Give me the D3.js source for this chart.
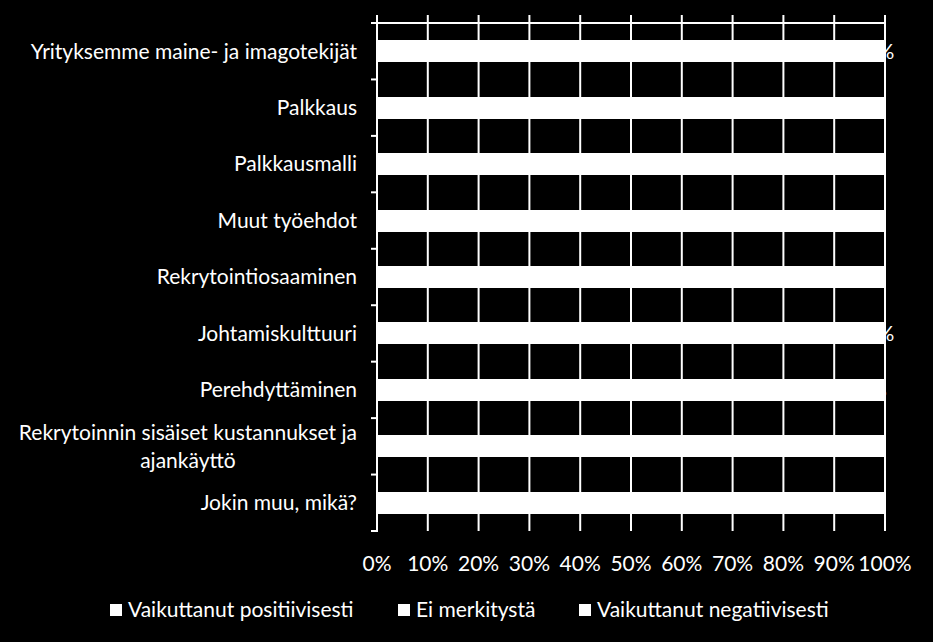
<!DOCTYPE html>
<html lang="fi">
<head>
<meta charset="UTF-8">
<title>Rekrytointi</title>
<script src="https://d3js.org/d3.v7.min.js"></script>
<style>
  html, body { margin: 0; padding: 0; background: #000; }
  svg { display: block; }
  text { font-family: Lato, "Open Sans", sans-serif; fill: #fff; }
</style>
</head>
<body>
<div id="chart"></div>
<script>
// categories top to bottom
var categories = [
  "Yrityksemme maine- ja imagotekijät",
  "Palkkaus",
  "Palkkausmalli",
  "Muut työehdot",
  "Rekrytointiosaaminen",
  "Johtamiskulttuuri",
  "Perehdyttäminen",
  "Rekrytoinnin sisäiset kustannukset ja ajankäyttö",
  "Jokin muu, mikä?"
];
var seriesNames = ["Vaikuttanut positiivisesti", "Ei merkitystä", "Vaikuttanut negatiivisesti"];
// all segments are white in the picture, so the splits are estimates
var positive = [45, 30, 20, 25, 35, 40, 30, 15, 10];
var neutral  = [53, 60, 70, 67, 57, 58, 65, 60, 80];
var negative = [ 2, 10, 10,  8,  8,  2,  5, 25, 10];
var tickValues = [0, 10, 20, 30, 40, 50, 60, 70, 80, 90, 100];

var W = 933, H = 642;
var plot = {left: 377, right: 885, top: 23, bottom: 531};
var fontSize = "21px";

var svg = d3.select("#chart").append("svg")
    .attr("width", W).attr("height", H);

svg.append("rect").attr("width", W).attr("height", H).attr("fill", "#000");

var x = d3.scaleLinear().domain([0, 100]).range([plot.left, plot.right]);
var y = d3.scaleBand().domain(categories).range([plot.top, plot.bottom])
    .paddingInner(0.61).paddingOuter(0.305);
var step = y.step();

// gridlines (with the little outside ticks above the top axis)
svg.append("g").selectAll("line")
  .data(tickValues).enter().append("line")
    .attr("x1", d => x(d)).attr("x2", d => x(d))
    .attr("y1", plot.top - 8).attr("y2", plot.bottom)
    .attr("stroke", "#fff").attr("stroke-width", 2);

// stacked bars
var rows = categories.map(function(c, i) {
  return {cat: c, v: [positive[i], neutral[i], negative[i]]};
});
var segs = [];
rows.forEach(function(r) {
  var acc = 0;
  r.v.forEach(function(v, k) {
    segs.push({cat: r.cat, k: k, x0: acc, x1: acc + v, v: v});
    acc += v;
  });
});

svg.append("g")
    .attr("shape-rendering", "crispEdges")
  .selectAll("rect")
  .data(segs).enter().append("rect")
    .attr("x", d => Math.round(x(d.x0)))
    .attr("y", d => Math.round(y(d.cat)))
    .attr("width", d => Math.round(x(d.x1)) - Math.round(x(d.x0)))
    .attr("height", Math.round(y.bandwidth()))
    .attr("fill", "#fff");

// value axis line on top
svg.append("line")
  .attr("x1", plot.left - 1).attr("x2", plot.right + 1)
  .attr("y1", plot.top).attr("y2", plot.top)
  .attr("stroke", "#fff").attr("stroke-width", 2);

// category axis line with ticks
svg.append("line")
  .attr("x1", plot.left).attr("x2", plot.left)
  .attr("y1", plot.top).attr("y2", plot.bottom + 1)
  .attr("stroke", "#fff").attr("stroke-width", 2);
svg.append("g").selectAll("line")
  .data(d3.range(categories.length + 1)).enter().append("line")
    .attr("x1", plot.left - 6).attr("x2", plot.left)
    .attr("y1", i => plot.top + i * step).attr("y2", i => plot.top + i * step)
    .attr("stroke", "#fff").attr("stroke-width", 2);

// data labels (white, like the original)
svg.append("g").selectAll("text")
  .data(segs.filter(d => d.v > 0)).enter().append("text")
    .attr("x", d => x((d.x0 + d.x1) / 2))
    .attr("y", d => y(d.cat) + y.bandwidth() / 2)
    .attr("dy", "0.35em")
    .attr("text-anchor", "middle")
    .style("font-size", fontSize)
    .text(d => d.v + "%");

// tick labels
svg.append("g").selectAll("text")
  .data(tickValues).enter().append("text")
    .attr("x", d => x(d))
    .attr("y", 564)
    .attr("dy", "0.35em")
    .attr("text-anchor", "middle")
    .style("font-size", fontSize)
    .text(d => d + "%");

// category labels, wrapped where too long
var labelRight = 357, maxWidth = 345;
var catLabels = svg.append("g").selectAll("text")
  .data(categories).enter().append("text")
    .attr("text-anchor", "middle")
    .style("font-size", fontSize);

catLabels.each(function(d) {
  var t = d3.select(this);
  var words = d.split(" "), lines = [], line = [];
  var probe = t.append("tspan");
  words.forEach(function(w) {
    line.push(w);
    probe.text(line.join(" "));
    if (probe.node().getComputedTextLength() > maxWidth && line.length > 1) {
      line.pop();
      lines.push(line.join(" "));
      line = [w];
    }
  });
  lines.push(line.join(" "));
  probe.remove();
  var widest = 0;
  lines.forEach(function(l) {
    var s = t.append("tspan").text(l);
    widest = Math.max(widest, s.node().getComputedTextLength());
    s.remove();
  });
  var cx = labelRight - widest / 2;
  var cy = y(d) + y.bandwidth() / 2;
  var lh = 28;
  lines.forEach(function(l, i) {
    t.append("tspan")
      .attr("x", cx)
      .attr("y", cy + (i - (lines.length - 1) / 2) * lh)
      .attr("dy", "0.35em")
      .text(l);
  });
});

// legend
var legendX = [110, 398, 579];
var legend = svg.append("g").selectAll("g")
  .data(seriesNames).enter().append("g")
    .attr("transform", (d, i) => "translate(" + legendX[i] + ",610)");
legend.append("rect")
  .attr("x", 0).attr("y", -6).attr("width", 12).attr("height", 12)
  .attr("fill", "#fff");
legend.append("text")
  .attr("x", 18).attr("dy", "0.35em")
  .style("font-size", fontSize)
  .text(d => d);
</script>
</body>
</html>
